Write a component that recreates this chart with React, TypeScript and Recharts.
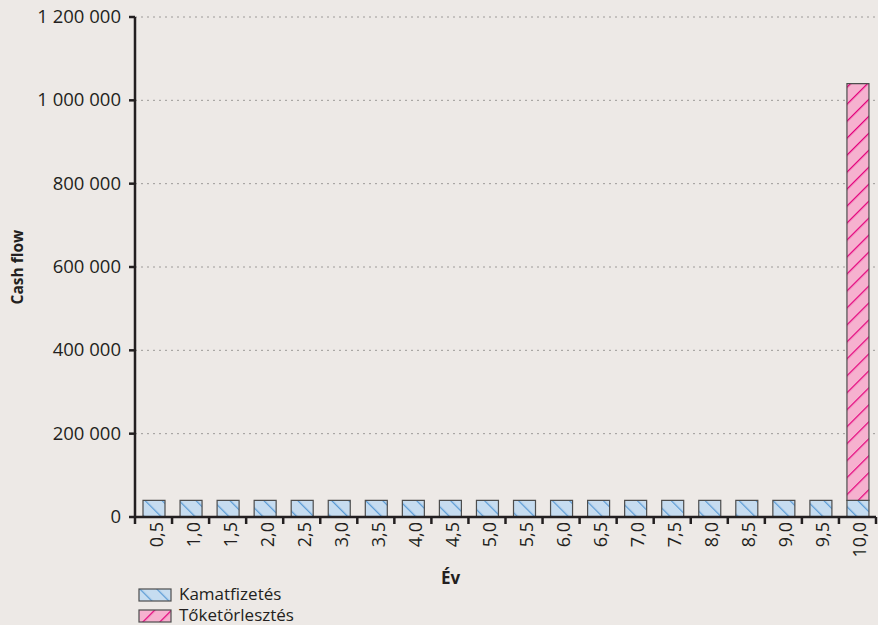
import React from 'react'
import { BarChart, Bar, XAxis, YAxis, CartesianGrid, Label } from 'recharts'

const years = ['0,5', '1,0', '1,5', '2,0', '2,5', '3,0', '3,5', '4,0', '4,5', '5,0', '5,5', '6,0', '6,5', '7,0', '7,5', '8,0', '8,5', '9,0', '9,5', '10,0']
const kamat = [40000, 40000, 40000, 40000, 40000, 40000, 40000, 40000, 40000, 40000, 40000, 40000, 40000, 40000, 40000, 40000, 40000, 40000, 40000, 40000]
const toke = [0, 0, 0, 0, 0, 0, 0, 0, 0, 0, 0, 0, 0, 0, 0, 0, 0, 0, 0, 1000000]
const yTicks = [0, 200000, 400000, 600000, 800000, 1000000, 1200000]

const data = years.map((ev, i) => ({ ev, kamat: kamat[i], toke: toke[i] }))

const W = 878
const H = 625
const margin = { top: 17, right: 2, left: 0, bottom: 38 }
const yAxisW = 135
const xAxisH = 70
const band = (W - margin.left - margin.right - yAxisW) / years.length
const axisY = H - margin.bottom - xAxisH
const ink = '#231f20'
const font = 'Open Sans, sans-serif'

const fmt = (v: number) => String(v).replace(/\B(?=(\d{3})+(?!\d))/g, ' ')

function XTick({ x, payload, index }: any) {
  const tx = x + 9
  const ty = axisY + 5
  return (
    <g>
      <line x1={x - band / 2} x2={x - band / 2} y1={axisY} y2={axisY + 7} stroke={ink} strokeWidth={2.5} />
      {index === years.length - 1 && (
        <line x1={x + band / 2} x2={x + band / 2} y1={axisY} y2={axisY + 7} stroke={ink} strokeWidth={2.5} />
      )}
      <text x={tx} y={ty} transform={`rotate(-90 ${tx} ${ty})`} textAnchor="end" fontSize={18} fill={ink} fontFamily={font}>
        {payload.value}
      </text>
    </g>
  )
}

function YTick({ y, payload }: any) {
  return (
    <text x={yAxisW - 14} y={y} dy={6} textAnchor="end" fontSize={18.5} fill={ink} fontFamily={font}>
      {fmt(payload.value)}
    </text>
  )
}

function YTitle({ viewBox }: any) {
  const cy = viewBox.y + viewBox.height / 2
  const cx = 23
  return (
    <text x={cx} y={cy} transform={`rotate(-90 ${cx} ${cy})`} textAnchor="middle" fontSize={15.5} fontWeight="bold" fill={ink} fontFamily={font}>
      Cash flow
    </text>
  )
}

function Swatch({ id }: { id: string }) {
  return (
    <svg width={34} height={14} style={{ verticalAlign: 'middle', marginRight: 7, display: 'inline-block' }}>
      <rect x={1} y={1} width={32} height={12} fill={`url(#${id})`} stroke="#4d4d4d" strokeWidth={1.2} />
    </svg>
  )
}

export default function App() {
  return (
    <div style={{ position: 'absolute', left: 0, top: 0, width: W, height: H, background: '#ede9e6' }}>
      <BarChart width={W} height={H} data={data} margin={margin} barSize={22}>
        <defs>
          <pattern id="pKamat" patternUnits="userSpaceOnUse" width={12} height={12} patternTransform="rotate(-45)">
            <rect width={12} height={12} fill="#c6dcf0" />
            <line x1={0} y1={0} x2={0} y2={12} stroke="#5b9bd5" strokeWidth={2.5} />
          </pattern>
          <pattern id="pToke" patternUnits="userSpaceOnUse" width={12} height={12} patternTransform="rotate(45)">
            <rect width={12} height={12} fill="#f6b1cf" />
            <line x1={0} y1={0} x2={0} y2={12} stroke="#e4007c" strokeWidth={2.5} />
          </pattern>
        </defs>
        <CartesianGrid vertical={false} stroke="#9d9a98" strokeDasharray="2 4" />
        <XAxis
          dataKey="ev"
          interval={0}
          height={xAxisH}
          tickLine={false}
          axisLine={{ stroke: ink, strokeWidth: 2.5 }}
          tick={<XTick />}
        >
          <Label value="Év" position="insideBottom" offset={3} dx={-55} fontFamily={font} fontSize={17} fontWeight="bold" fill={ink} />
        </XAxis>
        <YAxis
          width={yAxisW}
          domain={[0, 1200000]}
          ticks={yTicks}
          tickSize={6}
          axisLine={{ stroke: ink, strokeWidth: 2.5 }}
          tickLine={{ stroke: ink, strokeWidth: 2.5 }}
          tick={<YTick />}
        >
          <Label content={<YTitle />} />
        </YAxis>
        <Bar dataKey="kamat" stackId="a" fill="url(#pKamat)" stroke="#4d4d4d" strokeWidth={1.2} isAnimationActive={false} />
        <Bar dataKey="toke" stackId="a" fill="url(#pToke)" stroke="#4d4d4d" strokeWidth={1.2} isAnimationActive={false} />
      </BarChart>
      <div style={{ position: 'absolute', left: 138, top: 583, fontFamily: font, fontSize: 17, color: ink, lineHeight: '21px' }}>
        <div style={{ height: 21 }}><Swatch id="pKamat" />Kamatfizetés</div>
        <div style={{ height: 21 }}><Swatch id="pToke" />Tőketörlesztés</div>
      </div>
    </div>
  )
}
